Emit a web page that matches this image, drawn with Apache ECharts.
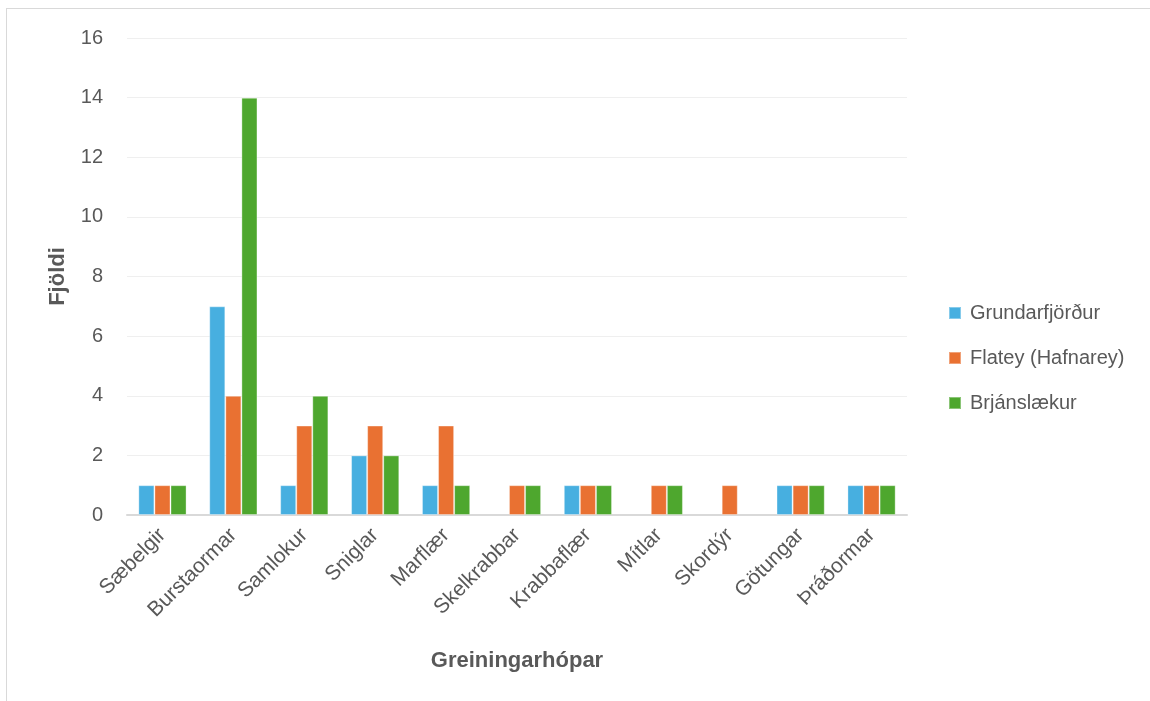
<!DOCTYPE html>
<html>
<head>
<meta charset="utf-8">
<script src="https://cdn.jsdelivr.net/npm/echarts@6/dist/echarts.min.js"></script>
<style>
  html, body { margin: 0; padding: 0; background: #fff; overflow: hidden; }
  #frame { position: absolute; left: 6px; top: 8px; width: 1200px; height: 760px;
           border: 1.5px solid #d9d9d9; box-sizing: border-box; }
  #chart { position: absolute; left: 0; top: 0; width: 1150px; height: 701px; }
</style>
</head>
<body>
<div id="frame"></div>
<div id="chart"></div>
<script>
// Taxonomic groups (x axis)
const categories = ['Sæbelgir', 'Burstaormar', 'Samlokur', 'Sniglar', 'Marflær',
  'Skelkrabbar', 'Krabbaflær', 'Mítlar', 'Skordýr', 'Götungar', 'Þráðormar'];

// Counts per site (null = none found)
const grundarfjordur = [1, 7, 1, 2, 1, null, 1, null, null, 1, 1];
const flatey        = [1, 4, 3, 3, 3, 1, 1, 1, 1, 1, 1];
const brjanslaekur  = [1, 14, 4, 2, 1, 1, 1, 1, null, 1, 1];

const yTicks = [0, 2, 4, 6, 8, 10, 12, 14, 16];

const seriesNames = ['Grundarfjörður', 'Flatey (Hafnarey)', 'Brjánslækur'];
const seriesColors = ['#47AFE0', '#E97132', '#4EA72E'];
const seriesData = [grundarfjordur, flatey, brjanslaekur];

const font = "'Liberation Sans', Arial, sans-serif";

const chart = echarts.init(document.getElementById('chart'), null, { renderer: 'canvas' });
chart.setOption({
  animation: false,
  textStyle: { fontFamily: font },
  grid: { left: 127, right: 243, top: 38, bottom: 186, containLabel: false },
  legend: {
    orient: 'vertical',
    left: 948,
    top: 303,
    padding: 0,
    itemWidth: 12,
    itemHeight: 12,
    itemGap: 25,
    icon: 'rect',
    data: seriesNames,
    textStyle: { fontFamily: font, fontSize: 20, color: '#595959', padding: [0, 0, 0, 4] }
  },
  xAxis: {
    type: 'category',
    data: categories,
    name: 'Greiningarhópar',
    nameLocation: 'middle',
    nameGap: 135,
    nameTextStyle: { fontFamily: font, fontSize: 22, fontWeight: 'bold', color: '#595959' },
    axisLine: { show: true, lineStyle: { color: '#d9d9d9', width: 2 } },
    axisTick: { show: false },
    axisLabel: { rotate: 45, interval: 0, margin: 17, fontSize: 21, color: '#595959', fontFamily: font }
  },
  yAxis: {
    type: 'value',
    min: yTicks[0],
    max: yTicks[yTicks.length - 1],
    interval: 2,
    name: 'Fjöldi',
    nameLocation: 'middle',
    nameGap: 58,
    nameRotate: 90,
    nameTextStyle: { fontFamily: font, fontSize: 22, fontWeight: 'bold', color: '#595959' },
    axisLine: { show: false },
    axisTick: { show: false },
    axisLabel: { margin: 24, fontSize: 20, color: '#595959', fontFamily: font },
    splitLine: { lineStyle: { color: '#efefef', width: 1 } }
  },
  series: seriesData.map((d, i) => ({
    name: seriesNames[i],
    type: 'bar',
    data: d,
    barGap: '0%',
    barCategoryGap: '32%',
    itemStyle: { color: seriesColors[i], borderColor: 'rgba(255,255,255,0.35)', borderWidth: 1 }
  }))
});
</script>
</body>
</html>
